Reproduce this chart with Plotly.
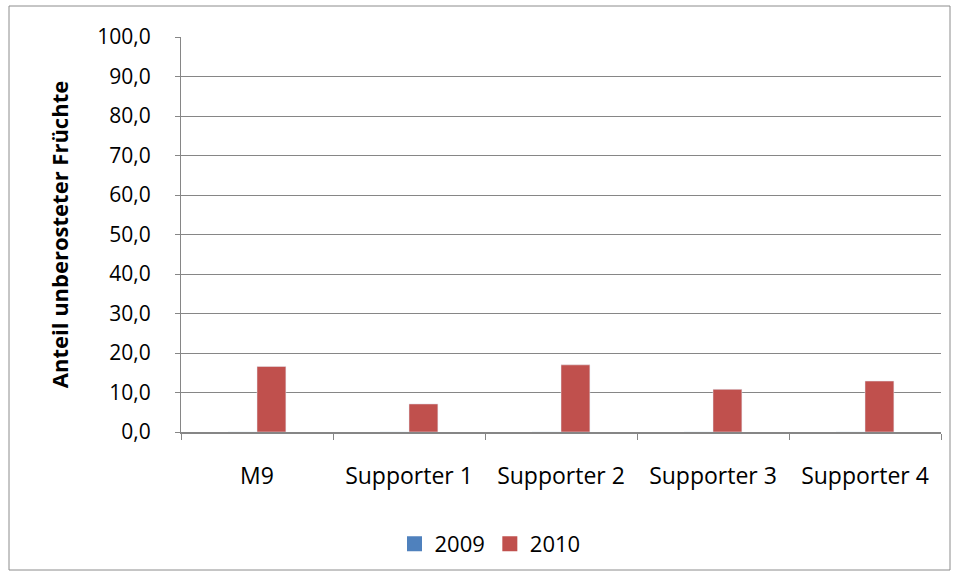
import plotly.graph_objects as go

categories = ["M9", "Supporter 1", "Supporter 2", "Supporter 3", "Supporter 4"]
values_2009 = [0, 0, 0, 0, 0]
values_2010 = [16.6, 7.1, 17.0, 10.8, 12.9]
y_ticks = [0, 10, 20, 30, 40, 50, 60, 70, 80, 90, 100]
series_names = ["2009", "2010"]
series_colors = ["#4F81BD", "#C0504D"]

W, H = 959, 577
L, R, T, B = 181, 18, 37, 145
pw, ph = W - L - R, H - T - B

FONT = "Open Sans"
FS = 21
grid = "#868686"

fig = go.Figure()
for name, vals, col in zip(series_names, [values_2009, values_2010], series_colors):
    fig.add_bar(x=categories, y=vals, name=name, marker_color=col,
                showlegend=False, legendgroup=name)
# legend entries with larger square symbols
for name, col in zip(series_names, series_colors):
    fig.add_scatter(x=[None], y=[None], mode="markers", name=name, legendgroup=name,
                    marker=dict(symbol="square", size=15, color=col))

# chart outer border (paper coordinates relative to plot area)
bx0, by0, bx1, by1 = 9, 6, 950, 570
fig.add_shape(type="rect", xref="paper", yref="paper",
              x0=(bx0 - L) / pw, x1=(bx1 - L) / pw,
              y0=(H - B - by1) / ph, y1=(H - B - by0) / ph,
              line=dict(color="#8C8C8C", width=1), fillcolor="rgba(0,0,0,0)", layer="below")

fig.update_layout(
    width=W, height=H,
    margin=dict(l=L, r=R, t=T, b=B, pad=0),
    paper_bgcolor="white", plot_bgcolor="white",
    barmode="group", bargap=0.62, bargroupgap=0,
    separators=",.",
    font=dict(family=FONT, size=FS, color="#000000"),
    showlegend=True,
    legend=dict(orientation="h", x=(490 - L) / pw, xanchor="center",
                y=(H - B - 544) / ph, yanchor="middle",
                font=dict(size=FS + 1), itemwidth=30, traceorder="normal",
                tracegroupgap=0),
)
fig.update_xaxes(
    type="category", showline=True, linecolor=grid, linewidth=2,
    ticks="outside", tickson="boundaries", ticklen=6, tickcolor=grid, tickwidth=1,
    tickfont=dict(size=FS + 2),
    ticklabelstandoff=22, showgrid=False, zeroline=False,
)
fig.update_yaxes(
    range=[0, 100], tickvals=y_ticks, tickformat=".1f",
    showline=True, linecolor=grid, linewidth=1,
    ticks="outside", ticklen=5, tickcolor=grid,
    ticklabelstandoff=20,
    showgrid=True, gridcolor=grid, gridwidth=1, zeroline=False,
    title=dict(text="<b>Anteil unberosteter Früchte</b>", font=dict(size=FS + 1), standoff=22),
)

fig.write_html("out.html")
